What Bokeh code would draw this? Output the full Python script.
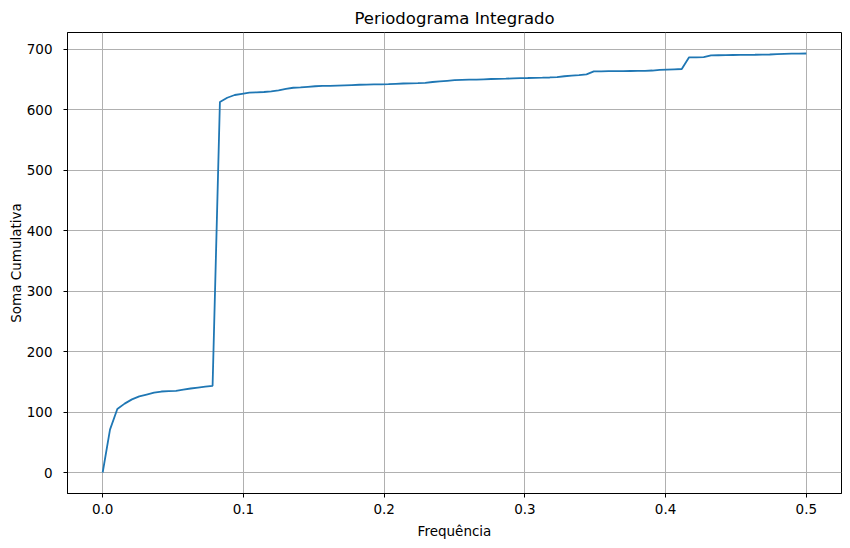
from bokeh.plotting import figure
from bokeh.models import Range1d, FixedTicker, PrintfTickFormatter
from bokeh.embed import file_html
from bokeh.resources import INLINE

# Frequencias (k / 192) e periodograma acumulado
frequencias = [
    0.0, 0.0052, 0.0104, 0.0156, 0.0208, 0.0260, 0.0312, 0.0365,
    0.0417, 0.0469, 0.0521, 0.0573, 0.0625, 0.0677, 0.0729, 0.0781,
    0.0833, 0.0885, 0.0938, 0.0990, 0.1042, 0.1094, 0.1146, 0.1198,
    0.1250, 0.1302, 0.1354, 0.1406, 0.1458, 0.1510, 0.1562, 0.1615,
    0.1667, 0.1719, 0.1771, 0.1823, 0.1875, 0.1927, 0.1979, 0.2031,
    0.2083, 0.2135, 0.2188, 0.2240, 0.2292, 0.2344, 0.2396, 0.2448,
    0.2500, 0.2552, 0.2604, 0.2656, 0.2708, 0.2760, 0.2812, 0.2865,
    0.2917, 0.2969, 0.3021, 0.3073, 0.3125, 0.3177, 0.3229, 0.3281,
    0.3333, 0.3385, 0.3438, 0.3490, 0.3542, 0.3594, 0.3646, 0.3698,
    0.3750, 0.3802, 0.3854, 0.3906, 0.3958, 0.4010, 0.4062, 0.4115,
    0.4167, 0.4219, 0.4271, 0.4323, 0.4375, 0.4427, 0.4479, 0.4531,
    0.4583, 0.4635, 0.4688, 0.4740, 0.4792, 0.4844, 0.4896, 0.4948,
    0.5000,
]
soma_cumulativa = [
    0, 71, 105, 114, 121, 126, 129, 132,
    134, 134.5, 135, 137, 139, 140.5, 142, 143.5,
    613, 620, 624.5, 626.5, 628.5, 629, 629.5, 630.5,
    632, 634.5, 636.5, 637, 638, 639, 639.5, 639.5,
    640, 640.5, 641, 641.5, 641.7, 642, 642.2, 642.5,
    643, 643.5, 643.8, 644, 644.5, 646, 647, 648,
    649, 649.5, 649.8, 650, 650.5, 651, 651.3, 651.6,
    652, 652.3, 652.6, 653, 653.2, 653.5, 654, 655.5,
    656.5, 657.5, 658.7, 663.5, 663.7, 663.9, 664, 664.1,
    664.2, 664.3, 664.5, 665, 666, 666.5, 667, 667.5,
    686.8, 686.8, 687, 690, 690.3, 690.5, 690.7, 690.9,
    691, 691.1, 691.3, 691.5, 692.2, 692.6, 692.8, 693,
    693.2,
]
x_ticks = [0.0, 0.1, 0.2, 0.3, 0.4, 0.5]
y_ticks = [0, 100, 200, 300, 400, 500, 600, 700]

FONT = "DejaVu Sans"

p = figure(frame_width=774, frame_height=461,
           min_border_left=67, min_border_right=8,
           min_border_top=32, min_border_bottom=54,
           x_range=Range1d(-0.025, 0.525), y_range=Range1d(-34.7, 727.9),
           title="Periodograma Integrado",
           x_axis_label="Frequência", y_axis_label="Soma Cumulativa",
           toolbar_location=None, output_backend="svg",
           background_fill_color="white", border_fill_color="white")

p.line(frequencias, soma_cumulativa, line_color="#1f77b4", line_width=1.8)

# title
p.title.align = "center"
p.title.text_font = FONT
p.title.text_font_size = "16.5px"
p.title.text_font_style = "normal"
p.title.text_color = "black"
p.title.standoff = 9

p.outline_line_color = "black"
p.outline_line_width = 1
p.outline_line_alpha = 1

p.xaxis.ticker = FixedTicker(ticks=x_ticks)
p.yaxis.ticker = FixedTicker(ticks=y_ticks)
p.xaxis.formatter = PrintfTickFormatter(format="%.1f")
p.yaxis.formatter = PrintfTickFormatter(format="%d")

for ax in (p.xaxis, p.yaxis):
    ax.axis_line_color = "black"
    ax.major_tick_line_color = "black"
    ax.major_tick_out = 4
    ax.major_tick_in = 0
    ax.minor_tick_line_color = None
    ax.major_label_text_font = FONT
    ax.major_label_text_font_size = "13.5px"
    ax.major_label_text_color = "black"
    ax.axis_label_text_font = FONT
    ax.axis_label_text_font_size = "13.5px"
    ax.axis_label_text_font_style = "normal"
    ax.axis_label_text_color = "black"

p.xaxis.major_label_standoff = 6
p.yaxis.major_label_standoff = 11
p.xaxis.axis_label_standoff = 6
p.yaxis.axis_label_standoff = 0

p.xgrid.grid_line_color = "#b0b0b0"
p.ygrid.grid_line_color = "#b0b0b0"
p.xgrid.grid_line_width = 1
p.ygrid.grid_line_width = 1

open("out.html", "w").write(file_html(p, INLINE))
